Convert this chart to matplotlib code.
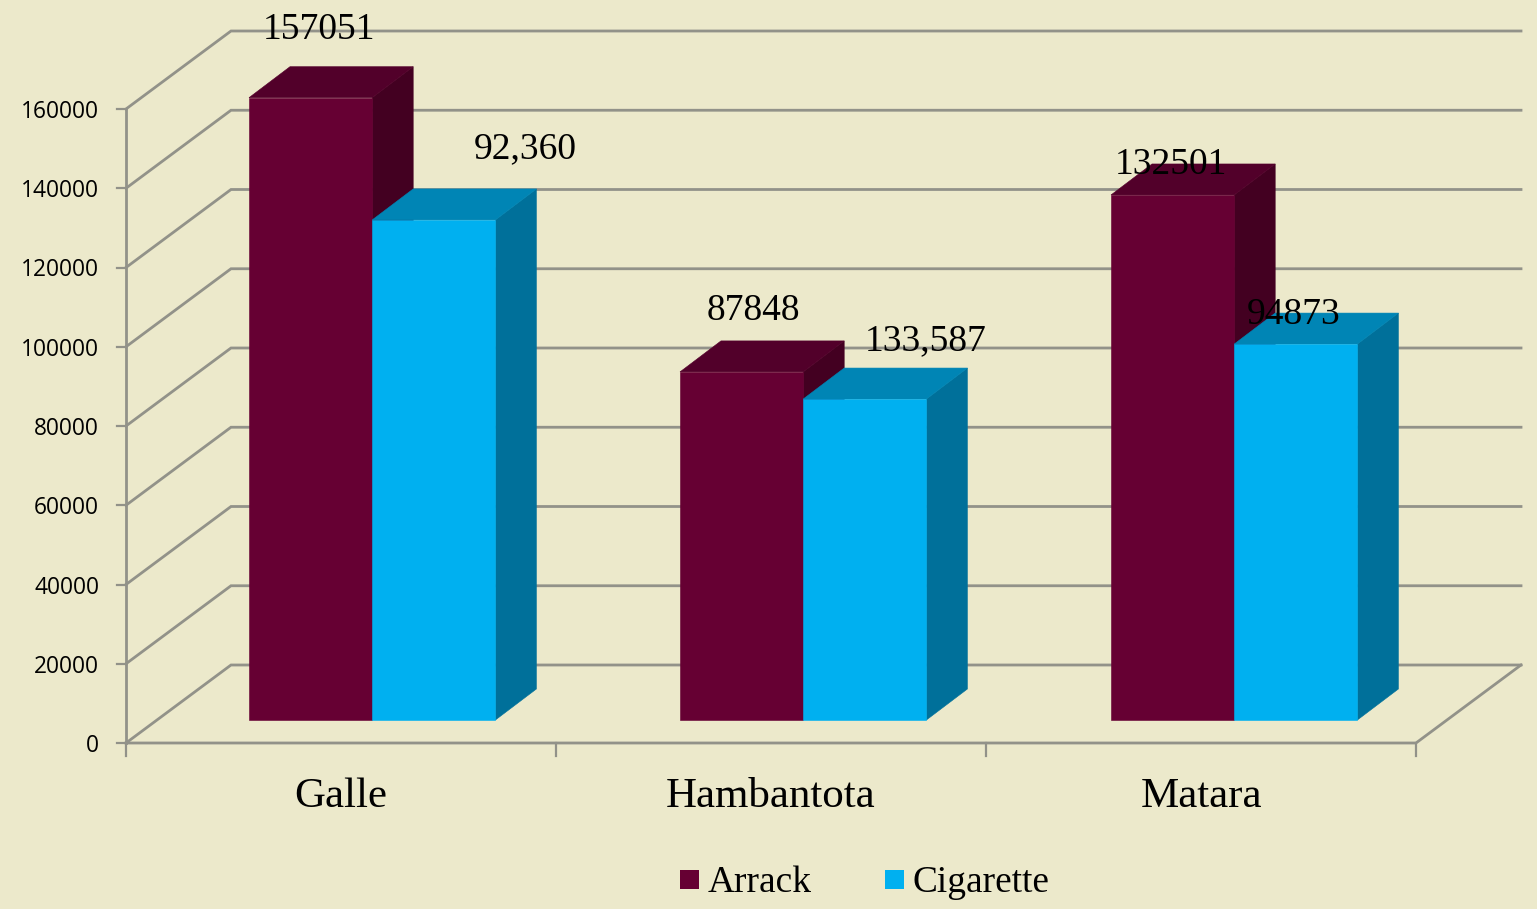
import matplotlib
matplotlib.use('Agg')
import matplotlib.pyplot as plt
from matplotlib.patches import Polygon

categories = ['Galle', 'Hambantota', 'Matara']
series_names = ['Arrack', 'Cigarette']
arrack = [157051, 87848, 132501]
cigarette = [126200, 81000, 94873]
arrack_labels = ['157051', '87848', '132501']
cigarette_labels = ['92,360', '133,587', '94873']
y_ticks = [0, 20000, 40000, 60000, 80000, 100000, 120000, 140000, 160000]

BG = '#ECE9CB'
GRID = '#929289'
COL = {'Arrack': ('#660033', '#52002A', '#430021'),
       'Cigarette': ('#00B0F0', '#0085B5', '#00709A')}

W, H = 1537, 909
fig = plt.figure(figsize=(W / 100, H / 100), dpi=100, facecolor=BG)
ax = fig.add_axes([0, 0, 1, 1])
ax.set_facecolor(BG)
PX_X = 430.0          # pixels per category
PX_Y = 634.0 / 160000 # pixels per unit value
ax.set_xlim(-126 / PX_X, (W - 126) / PX_X)
ax.set_ylim(-(H - 743) / PX_Y, 743 / PX_Y)
ax.axis('off')


def px(x, y):
    return (x - 126) / PX_X, (743 - y) / PX_Y


DX = 105 / PX_X   # depth of the plot box
DY = 78 / PX_Y
n = len(categories)
top = y_ticks[-1]

# walls
for v in y_ticks:
    ax.plot([0, DX, n + DX], [v, v + DY, v + DY], color=GRID, lw=2.0, solid_joinstyle='miter', zorder=1)
ax.plot([0, 0], [0, top], color=GRID, lw=2.0, zorder=1)
ax.plot([0, n, n + DX], [0, 0, DY], color=GRID, lw=2.0, zorder=1)
for i in range(n + 1):
    ax.plot([i, i], [0, -13 / PX_Y], color=GRID, lw=1.6, zorder=1)
for v in y_ticks:
    ax.plot([-9 / PX_X, 0], [v, v], color=GRID, lw=1.6, zorder=1)
    ax.text(-27 / PX_X, v - 3 / PX_Y, str(v), ha='right', va='center', family='Open Sans', fontsize=16.4, color='black')

# bars
STEP = 431 / PX_X
BW = 123.2 / PX_X
OFF = 123 / PX_X
BY0 = 23 / PX_Y
DEPX = 41 / PX_X
DEPY = 31 / PX_Y


def bar3d(x0, v, name, z):
    f, t, s = COL[name]
    x1 = x0 + BW
    front = [(x0, 0), (x1, 0), (x1, v), (x0, v)]
    top_f = [(x0, v), (x1, v), (x1 + DEPX, v + DEPY), (x0 + DEPX, v + DEPY)]
    side = [(x1, 0), (x1 + DEPX, DEPY), (x1 + DEPX, v + DEPY), (x1, v)]

    def sh(p):
        return [(a, b + BY0) for a, b in p]
    ax.add_patch(Polygon(sh(side), closed=True, fc=s, ec=s, lw=0.4, zorder=z))
    ax.add_patch(Polygon(sh(top_f), closed=True, fc=t, ec=t, lw=0.4, zorder=z))
    ax.add_patch(Polygon(sh(front), closed=True, fc=f, ec=f, lw=0.4, zorder=z + 0.1))


for i in range(n):
    x0 = i * STEP + OFF
    bar3d(x0, arrack[i], 'Arrack', 3)
    bar3d(x0 + BW, cigarette[i], 'Cigarette', 4)
    ax.text(i + 0.5, -54 / PX_Y, categories[i], ha='center', va='center', family='Liberation Serif', fontsize=31, color='black')

# data labels
serif = dict(family='Liberation Serif', fontsize=27, color='black', ha='center', va='center', zorder=6)
arr_lab_px = [(319, 30), (753, 311), (1171, 165)]
cig_lab_px = [(525, 149), (926, 341), (1293.5, 315)]
for i in range(n):
    ax.text(*px(*arr_lab_px[i]), arrack_labels[i], **serif)
    ax.text(*px(*cig_lab_px[i]), cigarette_labels[i], **serif)

# legend
leg_x = [680, 885]
for xp, name in zip(leg_x, series_names):
    x, y = px(xp, 870)
    dx = 19 / PX_X
    dy = 19 / PX_Y
    ax.add_patch(Polygon([(x, y), (x + dx, y), (x + dx, y - dy), (x, y - dy)], closed=True, fc=COL[name][0], ec='none'))
    ax.text(*px(xp + 28, 883), name, family='Liberation Serif', fontsize=26.9, ha='left', va='center', color='black')

fig.savefig('out.png', dpi=100, facecolor=BG)
